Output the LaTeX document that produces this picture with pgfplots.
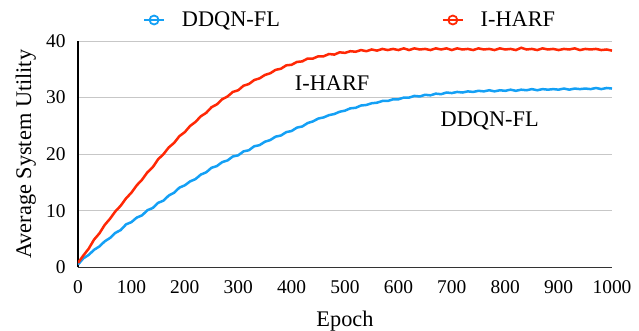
\documentclass[border=0pt]{standalone}
\usepackage{fontspec}
\setmainfont{Liberation Serif}
\usepackage{pgfplots}
\pgfplotsset{compat=1.18}
\definecolor{cblue}{RGB}{20,160,245}
\definecolor{cred}{RGB}{255,40,5}
\begin{document}
\begin{tikzpicture}[font=\rmfamily]
\path[use as bounding box] (-78bp,-63.6bp) rectangle (561bp,267.4bp);
\begin{axis}[
  at={(0,0)}, anchor=south west,
  scale only axis, width=534bp, height=226.4bp,
  xmin=0, xmax=1000, ymin=0, ymax=40,
  xtick={0,100,200,300,400,500,600,700,800,900,1000},
  xticklabels={0,100,200,300,400,500,600,700,800,900,1000},
  ytick={0,10,20,30,40},
  yticklabels={0,10,20,30,40},
  major tick length=0,
  ymajorgrids, grid style={draw=black!22, line width=0.8pt},
  axis x line*=bottom, axis y line*=left,
  x axis line style={-, draw=black!80, line width=1.8pt},
  y axis line style={-, draw=black, line width=1.2pt},
  xticklabel style={font=\rmfamily\fontsize{19.5}{19.5}\selectfont, yshift=-10bp},
  yticklabel style={font=\rmfamily\fontsize{19.5}{19.5}\selectfont, xshift=-9bp},
  xlabel={Epoch}, ylabel={Average System Utility},
  xlabel style={font=\rmfamily\fontsize{22.4}{22.4}\selectfont, at={(axis description cs:0.5,-0.259)}, anchor=base},
  ylabel style={font=\rmfamily\fontsize{22.4}{22.4}\selectfont, at={(axis description cs:-0.088,0.5)}, anchor=base},
  legend columns=2,
  legend style={at={(axis description cs:0.1217,1.0927)}, anchor=west, draw=none, fill=none,
    inner sep=0pt, nodes={inner sep=0pt, font=\rmfamily\fontsize{22.4}{22.4}\selectfont},
    font=\rmfamily\fontsize{22.4}{22.4}\selectfont,
    /tikz/every odd column/.append style={column sep=17bp},
    /tikz/every even column/.append style={column sep=162bp}},
  legend image code/.code={\draw[mark repeat=2,mark phase=2,#1] plot coordinates {(0bp,0bp) (10bp,0bp) (20bp,0bp)};},
]
\addlegendimage{cblue, line width=1.8pt, mark=o, mark size=4.5bp, mark options={line width=1.8pt, fill=white}}
\addlegendentry{DDQN-FL}
\addlegendimage{cred, line width=1.8pt, mark=o, mark size=4.5bp, mark options={line width=1.8pt, fill=white}}
\addlegendentry{I-HARF}

\addplot[cblue, line width=2.5bp, forget plot] coordinates {
(0,0.5)(10,1.6)(20,2.2)(30,3.1)(40,3.7)(50,4.6)(60,5.2)(70,6.1)(80,6.6)(90,7.6)
(100,8.0)(110,8.8)(120,9.2)(130,10.1)(140,10.5)(150,11.4)(160,11.8)(170,12.7)(180,13.2)(190,14.1)
(200,14.5)(210,15.2)(220,15.6)(230,16.4)(240,16.8)(250,17.6)(260,17.9)(270,18.6)(280,18.9)(290,19.6)
(300,19.8)(310,20.5)(320,20.7)(330,21.4)(340,21.6)(350,22.2)(360,22.5)(370,23.1)(380,23.3)(390,23.9)
(400,24.1)(410,24.7)(420,24.9)(430,25.5)(440,25.8)(450,26.3)(460,26.5)(470,26.9)(480,27.1)(490,27.5)
(500,27.7)(510,28.1)(520,28.2)(530,28.6)(540,28.7)(550,29.0)(560,29.1)(570,29.4)(580,29.4)(590,29.7)
(600,29.7)(610,30.0)(620,30.0)(630,30.3)(640,30.2)(650,30.5)(660,30.4)(670,30.7)(680,30.6)(690,30.9)
(700,30.8)(710,31.0)(720,30.9)(730,31.1)(740,31.0)(750,31.2)(760,31.1)(770,31.3)(780,31.1)(790,31.3)
(800,31.2)(810,31.4)(820,31.2)(830,31.4)(840,31.3)(850,31.5)(860,31.3)(870,31.5)(880,31.4)(890,31.5)
(900,31.4)(910,31.6)(920,31.4)(930,31.6)(940,31.5)(950,31.6)(960,31.5)(970,31.7)(980,31.5)(990,31.7)
(1000,31.6)
};
\addplot[cred, line width=2.5bp, forget plot] coordinates {
(0,0.8)(10,2.1)(20,3.3)(30,4.9)(40,6.0)(50,7.5)(60,8.6)(70,9.9)(80,10.9)(90,12.2)
(100,13.2)(110,14.5)(120,15.5)(130,16.8)(140,17.7)(150,19.1)(160,20.0)(170,21.2)(180,22.0)(190,23.2)
(200,23.9)(210,25.0)(220,25.7)(230,26.7)(240,27.3)(250,28.3)(260,28.8)(270,29.7)(280,30.2)(290,31.0)
(300,31.3)(310,32.1)(320,32.4)(330,33.1)(340,33.4)(350,34.0)(360,34.3)(370,34.9)(380,35.1)(390,35.7)
(400,35.8)(410,36.3)(420,36.4)(430,36.9)(440,36.9)(450,37.3)(460,37.3)(470,37.7)(480,37.6)(490,38.0)
(500,37.9)(510,38.2)(520,38.1)(530,38.4)(540,38.2)(550,38.5)(560,38.3)(570,38.6)(580,38.4)(590,38.6)
(600,38.4)(610,38.7)(620,38.4)(630,38.7)(640,38.5)(650,38.6)(660,38.4)(670,38.7)(680,38.5)(690,38.7)
(700,38.4)(710,38.7)(720,38.5)(730,38.6)(740,38.4)(750,38.7)(760,38.5)(770,38.6)(780,38.4)(790,38.7)
(800,38.5)(810,38.6)(820,38.4)(830,38.8)(840,38.5)(850,38.6)(860,38.4)(870,38.7)(880,38.5)(890,38.6)
(900,38.4)(910,38.6)(920,38.5)(930,38.7)(940,38.4)(950,38.6)(960,38.5)(970,38.6)(980,38.4)(990,38.5)
(1000,38.3)
};
\node[font=\rmfamily\fontsize{22.4}{22.4}\selectfont, anchor=base] at (axis cs:476,31.3) {I-HARF};
\node[font=\rmfamily\fontsize{22.4}{22.4}\selectfont, anchor=base] at (axis cs:771,24.9) {DDQN-FL};
\end{axis}
\end{tikzpicture}
\end{document}
